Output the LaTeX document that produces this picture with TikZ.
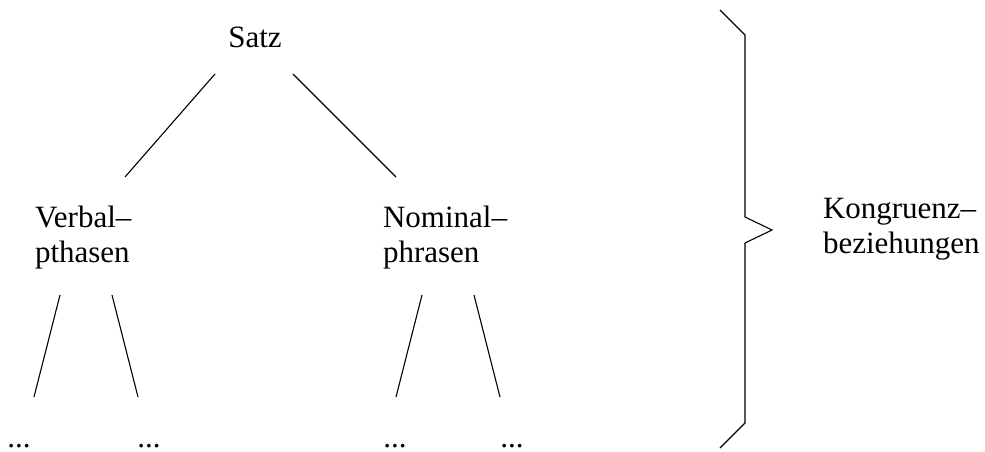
\documentclass[tikz,border=0pt]{standalone}
\usepackage{fontspec}
\setmainfont{Liberation Serif}
\begin{document}
\begin{tikzpicture}[x=1pt,y=-1pt,
  lbl/.style={inner sep=0pt,outer sep=0pt,font=\fontsize{31}{34.5}\selectfont,align=left},
  edge/.style={line width=1.1pt,black}]
\useasboundingbox (0,0) rectangle (985,452);
% labels (base anchor of a two-line node = baseline of its last line)
\node[lbl,anchor=base] (satz) at (255,48) {Satz};
\node[lbl,anchor=base west] (verb) at (35,262) {Verbal--\\pthasen};
\node[lbl,anchor=base west] (nom) at (383,262) {Nominal--\\phrasen};
\node[lbl,anchor=base west] (kong) at (823,253) {Kongruenz--\\beziehungen};
\node[lbl,anchor=base] (d1) at (19,447) {...};
\node[lbl,anchor=base] (d2) at (149,447) {...};
\node[lbl,anchor=base] (d3) at (395,447) {...};
\node[lbl,anchor=base] (d4) at (512,447) {...};
% connector end points
\coordinate (s1) at (215,74);
\coordinate (s2) at (125,177);
\coordinate (s3) at (293,74);
\coordinate (s4) at (396,177);
\coordinate (v1) at (60,295);
\coordinate (v2) at (34,397);
\coordinate (v3) at (112,295);
\coordinate (v4) at (138,397);
\coordinate (n1) at (422,295);
\coordinate (n2) at (396,397);
\coordinate (n3) at (474,295);
\coordinate (n4) at (500,397);
\draw[edge] (s1) -- (s2);
\draw[edge] (s3) -- (s4);
\draw[edge] (v1) -- (v2);
\draw[edge] (v3) -- (v4);
\draw[edge] (n1) -- (n2);
\draw[edge] (n3) -- (n4);
% brace
\coordinate (b1) at (720,10);
\coordinate (b2) at (745,35);
\coordinate (b3) at (745,217);
\coordinate (b4) at (772,230);
\coordinate (b5) at (745,243);
\coordinate (b6) at (745,423);
\coordinate (b7) at (720,448);
\draw[edge,line join=miter] (b1) -- (b2) -- (b3) -- (b4) -- (b5) -- (b6) -- (b7);
\end{tikzpicture}
\end{document}
